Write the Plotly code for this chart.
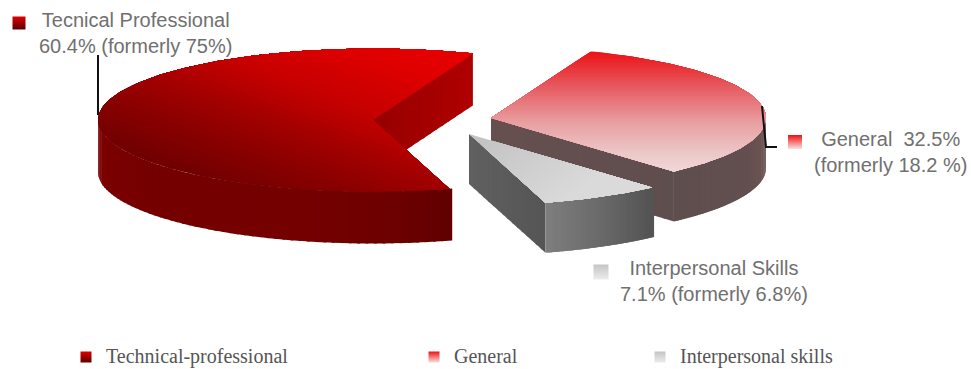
import numpy as np
import plotly.graph_objects as go

# ---- data ----
categories = ["Technical-professional", "General", "Interpersonal skills"]
shares = [60.4, 32.5, 7.1]
former = [75, 18.2, 6.8]
label_lines = [
    "Tecnical Professional<br>60.4% (formerly 75%)",
    "General  32.5%<br>(formerly 18.2 %)",
    "Interpersonal Skills<br>7.1% (formerly 6.8%)",
]

# ---- projection / layout ----
START = 68.7          # angle of the shared Red/General edge
A, B = 275.0, 71.5
W, H = 971, 369
fig = go.Figure()


def rgb(stops, t):
    p = [s[0] for s in stops]
    c = [s[1] for s in stops]
    vals = [np.interp(t, p, [int(x[i:i + 2], 16) for x in c]) for i in (1, 3, 5)]
    return "rgb(%d,%d,%d)" % tuple(int(round(v)) for v in vals)


def poly(x, y, color):
    fig.add_trace(go.Scatter(x=list(x), y=list(y), mode="lines", fill="toself",
                             fillcolor=color, line=dict(width=0), hoverinfo="skip",
                             showlegend=False))


def clip(pts, d, t0):
    out = []
    n = len(pts)
    for i in range(n):
        p, q = pts[i], pts[(i + 1) % n]
        a, b = p @ d - t0, q @ d - t0
        if a >= 0:
            out.append(p)
        if (a >= 0) != (b >= 0):
            out.append(p + (q - p) * a / (a - b))
    return np.array(out) if out else None


def gradient_face(pts, p0, p1, stops, bands=48):
    """Paint a polygon with a linear gradient from p0 to p1 (painter's order)."""
    p0, p1 = np.array(p0, float), np.array(p1, float)
    v = p1 - p0
    L = np.linalg.norm(v)
    d = v / L
    poly(pts[:, 0], pts[:, 1], rgb(stops, 0))
    for k in range(1, bands):
        t = k / bands
        c = clip(pts, d, p0 @ d + t * L)
        if c is not None and len(c) > 2:
            poly(c[:, 0], c[:, 1], rgb(stops, t + 0.5 / bands))


def rim(cx, cy, a0, a1, n=120):
    th = np.radians(np.linspace(a0, a1, n))
    return np.column_stack([cx + A * np.cos(th), cy - B * np.sin(th)])


def outer_wall(cx, cy, depth, a0, a1, stops, n=60):
    th = np.linspace(a0, a1, n + 1)
    xs = cx + A * np.cos(np.radians(th))
    x0, x1 = xs.min(), xs.max()
    for i in range(n):
        r = rim(cx, cy, th[i], th[i + 1] + (0.6 if a1 > a0 else -0.6), 6)
        xx = np.r_[r[:, 0], r[::-1, 0]]
        yy = np.r_[r[:, 1], r[::-1, 1] + depth]
        poly(xx, yy, rgb(stops, (xs[i] - x0) / (x1 - x0)))


def radial_wall(cx, cy, depth, angle, stops, bands=16):
    e = rim(cx, cy, angle, angle, 1)[0]
    c = np.array([cx, cy], float)
    for k in range(bands):
        p = c + (e - c) * k / bands
        q = c + (e - c) * min((k + 1.3) / bands, 1)
        poly([p[0], q[0], q[0], p[0]], [p[1], q[1], q[1] + depth, p[1] + depth],
             rgb(stops, (k + .5) / bands))


# sweep angles come from the shares
red_deg, gen_deg, gray_deg = [s * 3.6 for s in shares]
gen_a0, gen_a1 = START, START - gen_deg
gray_a0, gray_a1 = gen_a1, gen_a1 - gray_deg
red_a0, red_a1 = gray_a1, gray_a1 - red_deg

# ---- Technical-professional slice ----
cx, cy, dep = 373, 120, 52
radial_wall(cx, cy, dep, red_a1, [(0, "#960000"), (1, "#b00000")])
outer_wall(cx, cy, dep, -180, red_a0, [(0, "#7c0000"), (0.15, "#740000"), (0.6, "#740000"), (0.85, "#6c0000"), (1, "#600000")])
top = np.vstack([[cx, cy], rim(cx, cy, red_a1, red_a0, 240)])
gradient_face(top, (130, 160), (208, -49), [(0, "#6c0000"), (0.225, "#8a0000"), (0.37, "#a00000"), (0.56, "#c40000"), (0.8, "#de0000"), (1, "#e80000")])

# ---- General slice ----
cx, cy, dep = 491, 118, 50
radial_wall(cx, cy, dep, gen_a1, [(0, "#664f4f"), (1, "#5f4e4e")])
outer_wall(cx, cy, dep, gen_a1, 2, [(0, "#5f4e4e"), (0.8, "#634f4f"), (1, "#6e5555")])
top = np.vstack([[cx, cy], rim(cx, cy, gen_a1, gen_a0, 120)])
gradient_face(top, (620, 50), (620, 172), [(0, "#ec0e12"), (0.3, "#e65a60"), (0.6, "#e8a0a2"), (0.85, "#ecc8c8"), (1, "#f0d8d8")])

# ---- Interpersonal skills slice ----
cx, cy, dep = 469, 134, 50
radial_wall(cx, cy, dep, gray_a1, [(0, "#606060"), (1, "#555555")])
outer_wall(cx, cy, dep, gray_a1, gray_a0, [(0, "#7e7e7e"), (0.5, "#6a6a6a"), (1, "#535353")])
top = np.vstack([[cx, cy], rim(cx, cy, gray_a1, gray_a0, 40)])
gradient_face(top, (500, 130), (560, 205), [(0, "#c4c4c4"), (1, "#dadada")])

# ---- leader lines ----
fig.add_trace(go.Scatter(x=[98, 98], y=[55, 115], mode="lines", line=dict(color="#111111", width=2),
                         hoverinfo="skip", showlegend=False))
fig.add_trace(go.Scatter(x=[762, 766, 777], y=[106, 147, 147], mode="lines",
                         line=dict(color="#111111", width=2), hoverinfo="skip", showlegend=False))

# ---- key markers ----
dark = ["#e00000", "#ee1111", "#c4c4c4"]
grad = ["#5c0000", "#f6e0e0", "#ececec"]
for x, y, s, i in [(19, 23, 13, 0), (795, 142, 14, 1), (601, 272, 15, 2),
                   (86, 357, 11, 0), (434, 357, 11, 1), (660, 357, 11, 2)]:
    fig.add_trace(go.Scatter(x=[x], y=[y], mode="markers", hoverinfo="skip", showlegend=False,
                             marker=dict(symbol="square", size=s, color=dark[i], line=dict(width=0),
                                         gradient=dict(type="vertical", color=grad[i]))))

# ---- texts ----
ann = []
for x, y, s, fs in [(135, 33, label_lines[0], 20), (890, 152, label_lines[1], 20), (714, 281, label_lines[2], 20)]:
    ann.append(dict(x=x, y=y, text=s, showarrow=False, xanchor="center", yanchor="middle",
                    font=dict(family="Liberation Sans", size=fs, color="#707070")))
for x, s in zip([104, 452, 678], categories):
    ann.append(dict(x=x, y=356, text=s, showarrow=False, xanchor="left", yanchor="middle",
                    font=dict(family="Liberation Serif", size=20, color="#555555")))

fig.update_layout(
    width=W, height=H, margin=dict(l=0, r=0, t=0, b=0),
    paper_bgcolor="white", plot_bgcolor="white", showlegend=False, annotations=ann,
    xaxis=dict(range=[0, W], visible=False, fixedrange=True),
    yaxis=dict(range=[H, 0], visible=False, fixedrange=True),
)
fig.write_html("out.html", config=dict(displayModeBar=False),
               post_script="document.body.style.margin='0';document.body.style.overflow='hidden';")
